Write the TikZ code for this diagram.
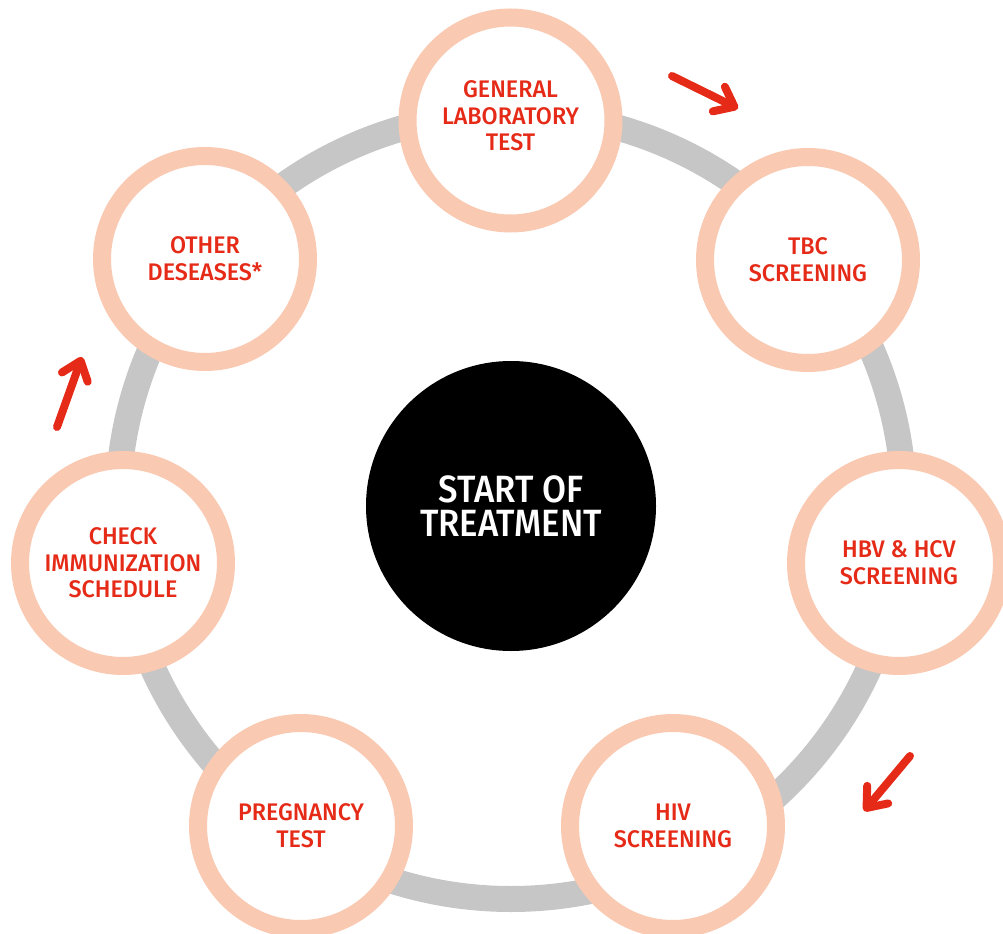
\documentclass[tikz,border=0pt]{standalone}
\usepackage{fontspec}
\setmainfont{Fira Sans}
\newfontfamily\labelfont{Fira Sans Medium}[FakeStretch=0.97]
\newfontfamily\hubfont{Fira Sans Medium}[FakeStretch=0.915]
\usetikzlibrary{arrows.meta}
\definecolor{peach}{HTML}{F9C9B2}
\definecolor{ringgray}{HTML}{C6C6C6}
\definecolor{labelred}{HTML}{E52A17}

\begin{document}
\begin{tikzpicture}[x=0.75pt,y=-0.75pt,
  stagefont/.style={text=labelred, align=center,
    font=\labelfont\fontsize{18}{20}\selectfont},
  stage/.style={circle, draw=peach, line width=13.5pt, fill=white,
    minimum size=154.5pt, inner sep=0pt, stagefont},
  hub/.style={circle, fill=black, minimum size=217.5pt, inner sep=0pt,
    text=white, align=center, font=\hubfont\fontsize{28.5}{25.5}\selectfont},
  cyclearrow/.style={draw=labelred, line width=6pt, line cap=round,
    -{Straight Barb[length=13pt,width=20.5pt,round]}},
  ring/.style={draw=ringgray, line width=19.5pt}
]
\useasboundingbox (0,0) rectangle (1003,934);
\clip (0,0) rectangle (1003,934);

% grey cycle behind the stations
\coordinate (ringc) at (511,506);
\draw[ring] (ringc) circle[radius=393];

% centre disc with its caption
\node[hub] (hub) at (511,506) {START OF\\TREATMENT};

% stations around the cycle
\node[stage] (lab)   at (510.5,120.5) {};
\node[stagefont] (labtext) at (lab.center) [yshift=3.5pt] {GENERAL\\LABORATORY\\TEST};
\node[stage] (tbc)   at (808,260)   {TBC\\SCREENING};
\node[stage] (hep)   at (899,563)   {HBV \& HCV\\SCREENING};
\node[stage] (hiv)   at (673,826)   {HIV\\SCREENING};
\node[stage] (preg)  at (301,826)   {PREGNANCY\\TEST};
\node[stage] (immun) at (123,563)   {CHECK\\IMMUNIZATION\\SCHEDULE};
\node[stage] (other) at (205,259)   {OTHER\\DESEASES*};

% direction arrows
\coordinate (a1s) at (672,76);  \coordinate (a1e) at (738,108.5);
\coordinate (a2s) at (910,756); \coordinate (a2e) at (864,811);
\coordinate (a3s) at (57,427);  \coordinate (a3e) at (82,357);
\draw[cyclearrow] (a1s) -- (a1e);
\draw[cyclearrow] (a2s) -- (a2e);
\draw[cyclearrow] (a3s) -- (a3e);
\end{tikzpicture}
\end{document}
